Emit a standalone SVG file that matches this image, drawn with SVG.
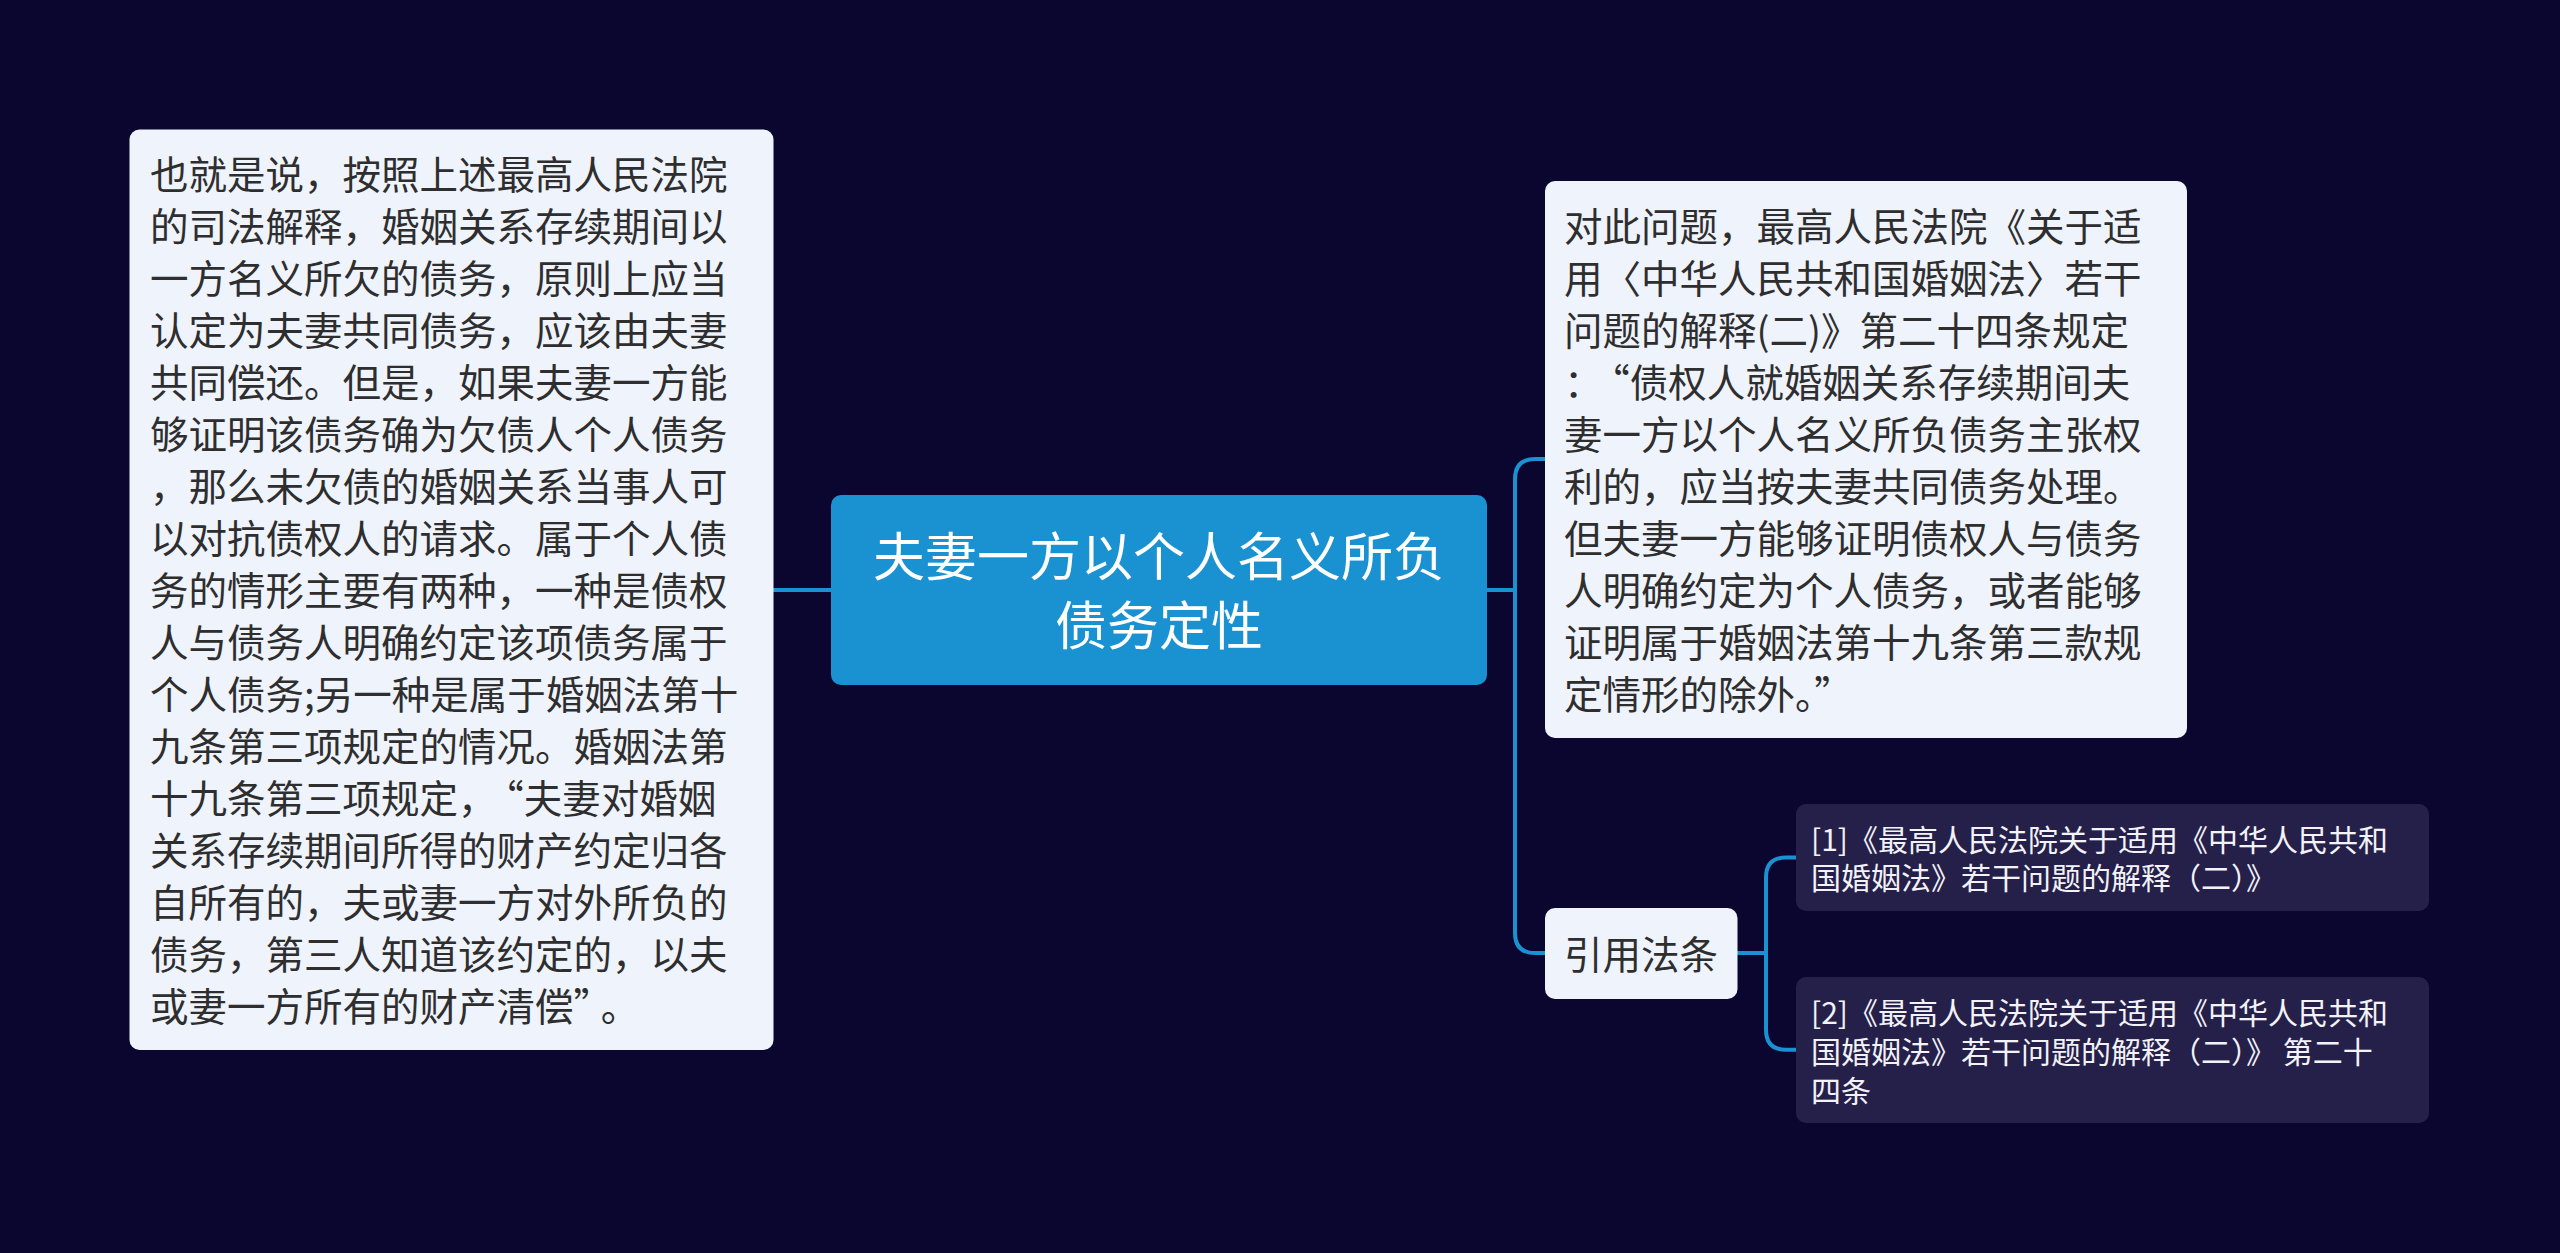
<svg xmlns="http://www.w3.org/2000/svg" width="2560" height="1253" viewBox="0 0 2560 1253">
<defs>
<style>
.bg{fill:#0b0630}
.light{fill:#eef3fc}
.dark{fill:#25204a}
.main{fill:#1a91d1}
.conn{fill:none;stroke:#1a91d1;stroke-width:4;stroke-linecap:round;stroke-linejoin:round}
text{font-family:"Noto Sans CJK SC","Noto Sans",sans-serif}
.t{font-size:38.5px;fill:#2e2e2e}
.tm{font-size:52px;fill:#ffffff}
.tr{font-size:30px;fill:#f2f2f7}
</style>
</defs>
<rect class="bg" x="0" y="0" width="2560" height="1253"/>
<g id="connectors">
<path class="conn" d="M831,590 H773"/>
<path class="conn" d="M1487,590 H1515 M1545,459 H1535 Q1515,459 1515,479 V933 Q1515,953 1535,953 H1545"/>
<path class="conn" d="M1737,953 H1766 M1796,857.5 H1786 Q1766,857.5 1766,877.5 V1029.7 Q1766,1049.7 1786,1049.7 H1796"/>
</g>
<g id="node-left">
<rect class="light" x="129.5" y="129.5" width="644" height="920.5" rx="10"/>
<text class="t" x="150">
<tspan x="150" y="188.5">也就是说，按照上述最高人民法院</tspan>
<tspan x="150" y="240.5">的司法解释，婚姻关系存续期间以</tspan>
<tspan x="150" y="292.5">一方名义所欠的债务，原则上应当</tspan>
<tspan x="150" y="344.5">认定为夫妻共同债务，应该由夫妻</tspan>
<tspan x="150" y="396.5">共同偿还。但是，如果夫妻一方能</tspan>
<tspan x="150" y="448.5">够证明该债务确为欠债人个人债务</tspan>
<tspan x="150" y="500.5">，那么未欠债的婚姻关系当事人可</tspan>
<tspan x="150" y="552.5">以对抗债权人的请求。属于个人债</tspan>
<tspan x="150" y="604.5">务的情形主要有两种，一种是债权</tspan>
<tspan x="150" y="656.5">人与债务人明确约定该项债务属于</tspan>
<tspan x="150" y="708.5">个人债务;另一种是属于婚姻法第十</tspan>
<tspan x="150" y="760.5">九条第三项规定的情况。婚姻法第</tspan>
<tspan x="150" y="812.5">十九条第三项规定，<tspan dx="8">“</tspan>夫妻对婚姻</tspan>
<tspan x="150" y="864.5">关系存续期间所得的财产约定归各</tspan>
<tspan x="150" y="916.5">自所有的，夫或妻一方对外所负的</tspan>
<tspan x="150" y="968.5">债务，第三人知道该约定的，以夫</tspan>
<tspan x="150" y="1020.5">或妻一方所有的财产清偿”<tspan dx="8">。</tspan></tspan>
</text>
</g>
<g id="node-center">
<rect class="main" x="831" y="495" width="656" height="190" rx="10"/>
<text class="tm" text-anchor="middle" x="1159" y="576">夫妻一方以个人名义所负</text>
<text class="tm" text-anchor="middle" x="1159" y="645">债务定性</text>
</g>
<g id="node-right">
<rect class="light" x="1545" y="181" width="642" height="557" rx="10"/>
<text class="t">
<tspan x="1564" y="241">对此问题，最高人民法院《关于适</tspan>
<tspan x="1564" y="293">用〈中华人民共和国婚姻法〉若干</tspan>
<tspan x="1564" y="345">问题的解释(二)》第二十四条规定</tspan>
<tspan x="1564" y="397">：<tspan dx="8">“</tspan>债权人就婚姻关系存续期间夫</tspan>
<tspan x="1564" y="449">妻一方以个人名义所负债务主张权</tspan>
<tspan x="1564" y="501">利的，应当按夫妻共同债务处理。</tspan>
<tspan x="1564" y="553">但夫妻一方能够证明债权人与债务</tspan>
<tspan x="1564" y="605">人明确约定为个人债务，或者能够</tspan>
<tspan x="1564" y="657">证明属于婚姻法第十九条第三款规</tspan>
<tspan x="1564" y="709">定情形的除外。”</tspan>
</text>
</g>
<g id="node-cite">
<rect class="light" x="1545" y="908" width="192.5" height="91" rx="10"/>
<text class="t" x="1564" y="969">引用法条</text>
</g>
<g id="node-ref1">
<rect class="dark" x="1796" y="804" width="633" height="107" rx="10"/>
<text class="tr">
<tspan x="1811" y="851">[1]《最高人民法院关于适用《中华人民共和</tspan>
<tspan x="1811" y="889">国婚姻法》若干问题的解释（二）》</tspan>
</text>
</g>
<g id="node-ref2">
<rect class="dark" x="1796" y="977" width="633" height="146" rx="10"/>
<text class="tr">
<tspan x="1811" y="1024">[2]《最高人民法院关于适用《中华人民共和</tspan>
<tspan x="1811" y="1063">国婚姻法》若干问题的解释（二）》 第二十</tspan>
<tspan x="1811" y="1102">四条</tspan>
</text>
</g>
</svg>
